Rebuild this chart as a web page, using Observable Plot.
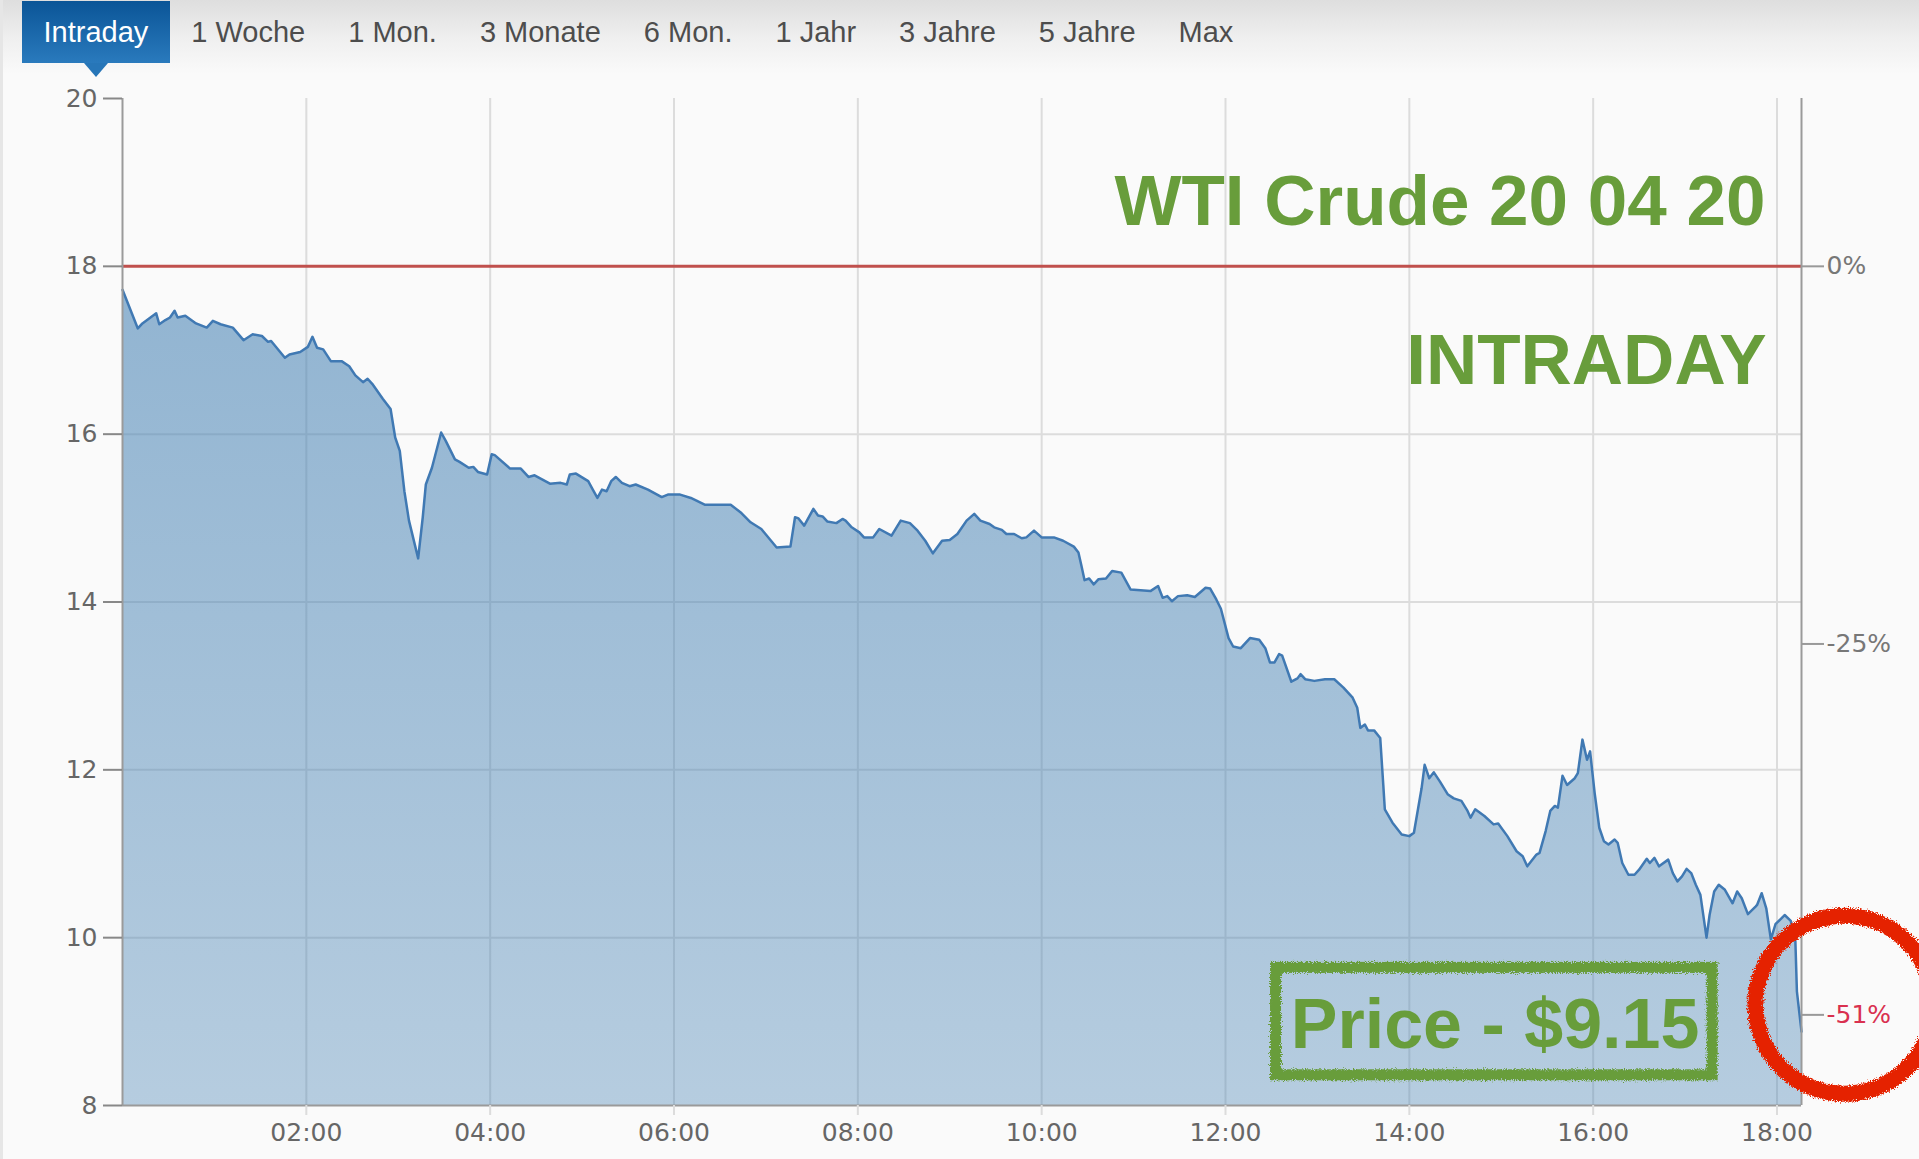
<!DOCTYPE html>
<html>
<head>
<meta charset="utf-8">
<script src="https://cdn.jsdelivr.net/npm/d3@7"></script>
<script src="https://cdn.jsdelivr.net/npm/@observablehq/plot@0.6"></script>
<style>
html,body{margin:0;padding:0;background:#fafafa;}
body{width:1919px;height:1159px;overflow:hidden;position:relative;font-family:"Liberation Sans",Arial,sans-serif;}
#edge{position:absolute;left:0;top:0;width:3px;height:1159px;background:#e6e6e6;z-index:3;}
#tabs{position:absolute;left:0;top:0;width:1919px;height:78px;background:linear-gradient(#dedede 0px,#efefef 38px,#fafafa 74px);z-index:2;}
#tabs .row{position:absolute;left:22px;top:1px;height:62px;display:flex;}
.tab{padding:0 21.5px;font-size:29px;line-height:62px;color:#4d4d4d;white-space:nowrap;}
.tab.active{background:linear-gradient(#0b5597,#2a7abd);color:#fff;position:relative;}
.tab.active:after{content:"";position:absolute;left:50%;margin-left:-12px;top:62px;border-left:12px solid transparent;border-right:12px solid transparent;border-top:14px solid #2776b8;}
#chart{position:absolute;left:0;top:0;}
</style>
</head>
<body>
<div id="edge"></div>
<div id="tabs"><div class="row" id="tabrow"></div></div>
<div id="chart"></div>
<script>
// ---------- data ----------
const tabLabels = ["Intraday", "1 Woche", "1 Mon.", "3 Monate", "6 Mon.", "1 Jahr", "3 Jahre", "5 Jahre", "Max"];

const times = [
  "00:00","00:10","00:13","00:22","00:24","00:28","00:31","00:34","00:36","00:41",
  "00:48","00:55","00:59","01:04","01:12","01:19","01:25","01:31","01:35","01:37",
  "01:46","01:49","01:56","02:01","02:04","02:07","02:11","02:16","02:23","02:28",
  "02:32","02:37","02:40","02:43","02:50","02:55","02:58","03:01","03:04","03:07",
  "03:13","03:16","03:18","03:22","03:28","03:31","03:37","03:40","03:46","03:49",
  "03:52","03:58","04:01","04:03","04:13","04:20","04:25","04:29","04:39","04:46",
  "04:50","04:52","04:56","05:04","05:07","05:10","05:13","05:16","05:19","05:22",
  "05:26","05:31","05:35","05:43","05:52","05:56","06:04","06:11","06:20","06:37",
  "06:44","06:50","06:57","07:07","07:16","07:19","07:21","07:25","07:31","07:34",
  "07:37","07:40","07:46","07:50","07:52","07:56","08:01","08:04","08:10","08:14",
  "08:22","08:28","08:34","08:39","08:44","08:49","08:55","09:00","09:05","09:11",
  "09:16","09:20","09:26","09:29","09:34","09:37","09:42","09:47","09:50","09:55",
  "10:00","10:04","10:08","10:14","10:21","10:24","10:26","10:28","10:31","10:34",
  "10:37","10:42","10:46","10:52","10:58","11:11","11:16","11:19","11:22","11:25",
  "11:29","11:35","11:40","11:47","11:50","11:54","11:57","12:02","12:05","12:10",
  "12:16","12:22","12:26","12:29","12:32","12:35","12:37","12:43","12:47","12:49",
  "12:52","12:58","13:05","13:11","13:17","13:23","13:26","13:28","13:31","13:33",
  "13:37","13:41","13:43","13:44","13:49","13:55","14:00","14:03","14:08","14:10",
  "14:13","14:16","14:20","14:25","14:29","14:34","14:38","14:40","14:43","14:49",
  "14:55","14:58","15:04","15:10","15:14","15:17","15:23","15:25","15:29","15:32",
  "15:35","15:37","15:40","15:43","15:48","15:50","15:53","15:56","15:58","16:01",
  "16:04","16:07","16:10","16:14","16:16","16:19","16:23","16:27","16:30","16:35",
  "16:37","16:40","16:43","16:49","16:52","16:55","16:58","17:01","17:04","17:07",
  "17:10","17:14","17:16","17:19","17:22","17:26","17:31","17:34","17:37","17:41",
  "17:46","17:47","17:50","17:53","17:56","17:59","18:05","18:09","18:12","18:13",
  "18:16"
];

const prices = [
  17.72,17.26,17.32,17.44,17.31,17.36,17.39,17.47,17.39,17.41,
  17.32,17.27,17.35,17.31,17.27,17.12,17.19,17.17,17.10,17.11,
  16.91,16.95,16.98,17.04,17.16,17.03,17.01,16.87,16.87,16.81,
  16.70,16.62,16.66,16.60,16.42,16.30,15.96,15.80,15.32,14.97,
  14.52,15.01,15.40,15.60,16.02,15.92,15.70,15.67,15.60,15.61,
  15.55,15.52,15.76,15.75,15.59,15.59,15.49,15.51,15.41,15.42,
  15.40,15.52,15.53,15.44,15.34,15.24,15.34,15.32,15.44,15.49,
  15.42,15.38,15.40,15.34,15.25,15.28,15.28,15.24,15.16,15.16,
  15.06,14.95,14.87,14.65,14.66,15.01,15.00,14.91,15.11,15.03,
  15.02,14.96,14.94,14.99,14.97,14.89,14.83,14.77,14.77,14.87,
  14.79,14.97,14.94,14.85,14.73,14.58,14.73,14.74,14.81,14.97,
  15.05,14.97,14.93,14.89,14.86,14.81,14.81,14.76,14.77,14.85,
  14.77,14.77,14.77,14.73,14.66,14.59,14.43,14.26,14.28,14.21,
  14.27,14.28,14.37,14.35,14.15,14.13,14.19,14.05,14.07,14.01,
  14.07,14.08,14.06,14.17,14.16,14.03,13.92,13.57,13.47,13.45,
  13.57,13.55,13.45,13.28,13.28,13.38,13.36,13.05,13.09,13.14,
  13.08,13.06,13.08,13.08,12.98,12.86,12.74,12.50,12.54,12.47,
  12.47,12.38,11.82,11.53,11.37,11.23,11.21,11.25,11.78,12.06,
  11.90,11.97,11.86,11.71,11.66,11.63,11.51,11.43,11.53,11.45,
  11.35,11.36,11.21,11.03,10.97,10.85,10.99,11.01,11.27,11.51,
  11.57,11.55,11.93,11.82,11.90,11.96,12.36,12.12,12.22,11.72,
  11.31,11.15,11.11,11.17,11.13,10.89,10.75,10.75,10.81,10.94,
  10.89,10.95,10.85,10.93,10.77,10.67,10.73,10.82,10.77,10.63,
  10.51,10.00,10.27,10.55,10.63,10.57,10.41,10.55,10.47,10.28,
  10.37,10.39,10.53,10.35,9.98,10.16,10.27,10.20,9.96,9.36,
  8.88
];

const xTickLabels = ["02:00","04:00","06:00","08:00","10:00","12:00","14:00","16:00","18:00"];
const yTicks = [8, 10, 12, 14, 16, 18, 20];
const yGrid = [10, 12, 14, 16];
const basePrice = 18;
const pctTicks = [18, 13.5];
const pctLabels = ["0%", "-25%"];
const lastTick = 9.08;
const lastLabel = "-51%";
const titleText = "WTI Crude 20 04 20";
const subtitleText = "INTRADAY";
const priceText = "Price - $9.15";
const xStart = "00:00", xEnd = "18:16";

// ---------- tabs ----------
const row = document.getElementById("tabrow");
tabLabels.forEach((t, i) => {
  const d = document.createElement("div");
  d.className = "tab" + (i === 0 ? " active" : "");
  d.textContent = t;
  row.appendChild(d);
});

// ---------- chart ----------
const parse = s => new Date(Date.UTC(2020, 3, 20, +s.slice(0, 2), +s.slice(3, 5)));
const data = times.map((t, i) => ({date: parse(t), price: prices[i]}));
const xTicks = xTickLabels.map(parse);
const x0 = parse(xStart), x1 = parse(xEnd);
const green = "#689d3b";
const fmt = d3.utcFormat("%H:%M");

const chart = Plot.plot({
  width: 1919,
  height: 1159,
  marginLeft: 122,
  marginRight: 118,
  marginTop: 98,
  marginBottom: 54,
  style: {background: "transparent", fontFamily: "DejaVu Sans", fontSize: "25px", overflow: "visible"},
  x: {type: "utc", domain: [x0, x1], label: null},
  y: {domain: [8, 20], label: null},
  marks: [
    Plot.gridX({ticks: xTicks, stroke: "#dcdcdc", strokeOpacity: 1, strokeWidth: 2}),
    Plot.gridY({ticks: yGrid, stroke: "#dcdcdc", strokeOpacity: 1, strokeWidth: 2}),
    Plot.areaY(data, {x: "date", y1: 8, y2: "price", fill: "#4682b4", fillOpacity: 0.5}),
    Plot.lineY(data, {x: "date", y: "price", stroke: "#4079b3", strokeWidth: 2.5}),
    Plot.ruleY([basePrice], {stroke: "#c0504d", strokeWidth: 3}),
    Plot.ruleY([8], {stroke: "#9a9a9a", strokeWidth: 2}),
    Plot.ruleX([x0], {stroke: "#9a9a9a", strokeWidth: 2}),
    Plot.ruleX([x1], {stroke: "#9a9a9a", strokeWidth: 2}),
    Plot.axisY({ticks: yTicks, anchor: "left", tickSize: 19, tickPadding: 6, stroke: "#888", strokeWidth: 2, fill: "#666", fontSize: 25, label: null}),
    Plot.axisX({ticks: xTicks, anchor: "bottom", tickSize: 10, tickPadding: 8, stroke: "#dcdcdc", strokeWidth: 2, fill: "#666", fontSize: 25, tickFormat: d => fmt(d), label: null}),
    Plot.axisY({ticks: pctTicks, anchor: "right", tickSize: 22, tickPadding: 3, stroke: "#999", strokeWidth: 2, fill: "#777", fontSize: 25, tickFormat: d => pctLabels[pctTicks.indexOf(d)], label: null}),
    Plot.axisY({ticks: [lastTick], anchor: "right", tickSize: 22, tickPadding: 3, stroke: "#999", strokeWidth: 2, fill: "#d9304f", fontSize: 25, tickFormat: () => lastLabel, label: null}),
    Plot.text([titleText], {frameAnchor: "top-right", dx: -36, dy: 126, lineAnchor: "bottom", fill: green, fontSize: 71, fontWeight: "bold", fontFamily: "Liberation Sans"}),
    Plot.text([subtitleText], {frameAnchor: "top-right", dx: -35, dy: 285, lineAnchor: "bottom", fill: green, fontSize: 71, fontWeight: "bold", fontFamily: "Liberation Sans"}),
    Plot.rect([{x1: parse("12:33"), x2: parse("17:18"), y1: 8.36, y2: 9.64}], {x1: "x1", x2: "x2", y1: "y1", y2: "y2", fill: "none", stroke: green, strokeWidth: 11}),
    Plot.text([{x: parse("14:56"), y: 8.69, label: priceText}], {x: "x", y: "y", text: "label", lineAnchor: "bottom", fill: green, fontSize: 70, fontWeight: "bold", fontFamily: "Liberation Sans"}),
    Plot.dot([{x: parse("18:44"), y: 9.2}], {x: "x", y: "y", r: 89, fill: "none", stroke: "#e52400", strokeWidth: 16})
  ]
});

document.getElementById("chart").appendChild(chart);

// defs: gradient + rough filter
const svg = d3.select(chart);
const defs = svg.insert("defs", ":first-child");
const grad = defs.append("linearGradient").attr("id", "areaGrad").attr("x1", 0).attr("y1", 0).attr("x2", 0).attr("y2", 1);
grad.append("stop").attr("offset", "0%").attr("stop-color", "#4682b4").attr("stop-opacity", 0.58);
grad.append("stop").attr("offset", "100%").attr("stop-color", "#4682b4").attr("stop-opacity", 0.38);
const filt = defs.append("filter").attr("id", "rough").attr("x", "-10%").attr("y", "-10%").attr("width", "120%").attr("height", "120%");
filt.append("feTurbulence").attr("type", "fractalNoise").attr("baseFrequency", 0.9).attr("numOctaves", 2).attr("seed", 3).attr("result", "noise");
filt.append("feDisplacementMap").attr("in", "SourceGraphic").attr("in2", "noise").attr("scale", 7).attr("xChannelSelector", "R").attr("yChannelSelector", "G");

svg.selectAll('g[aria-label="area"] path').attr("fill", "url(#areaGrad)").attr("fill-opacity", 1);
svg.selectAll('g[aria-label="area"]').attr("fill", "url(#areaGrad)").attr("fill-opacity", 1);
svg.selectAll('g[aria-label="rect"], g[aria-label="dot"]').attr("filter", "url(#rough)");
</script>
</body>
</html>
